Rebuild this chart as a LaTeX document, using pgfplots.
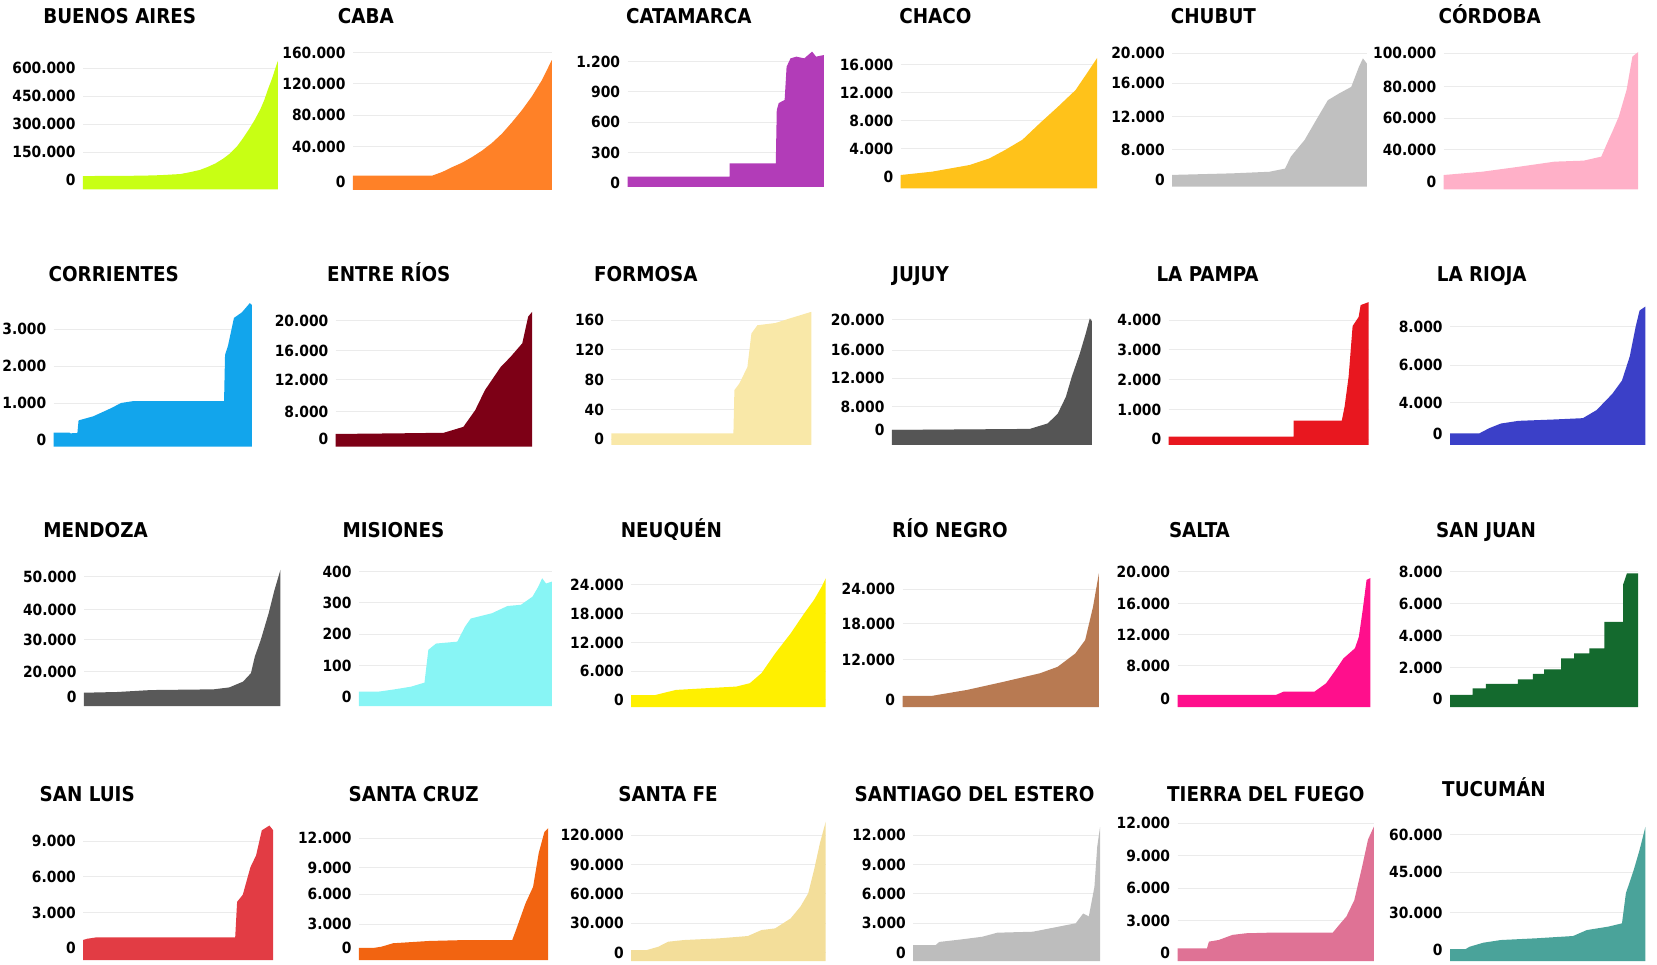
\documentclass[border=0pt]{standalone}
\usepackage{pgfplots}
\pgfplotsset{compat=1.18}
\usepackage{fontspec}
\newfontfamily\cf{DejaVu Sans Condensed}

\definecolor{cBA}{HTML}{C8FF14}
\definecolor{cCABA}{HTML}{FF8127}
\definecolor{cCAT}{HTML}{B23CB8}
\definecolor{cCHA}{HTML}{FFC21A}
\definecolor{cCHU}{HTML}{C0C0C0}
\definecolor{cCOR}{HTML}{FFB0C8}
\definecolor{cCRR}{HTML}{12A5EC}
\definecolor{cER}{HTML}{7D0016}
\definecolor{cFOR}{HTML}{F9E8A8}
\definecolor{cJUJ}{HTML}{555555}
\definecolor{cLP}{HTML}{E8171F}
\definecolor{cLR}{HTML}{3B40C8}
\definecolor{cMEN}{HTML}{595959}
\definecolor{cMIS}{HTML}{88F5F5}
\definecolor{cNEU}{HTML}{FFF000}
\definecolor{cRN}{HTML}{B87A52}
\definecolor{cSAL}{HTML}{FF0F8C}
\definecolor{cSJ}{HTML}{146A2E}
\definecolor{cSL}{HTML}{E23C44}
\definecolor{cSC}{HTML}{F26411}
\definecolor{cSF}{HTML}{F3DE9A}
\definecolor{cSE}{HTML}{BDBDBD}
\definecolor{cTDF}{HTML}{DF7295}
\definecolor{cTUC}{HTML}{4AA39A}

\pgfplotsset{
  pan/.style={
    scale only axis, anchor=south west,
    xmin=0, xmax=100,
    axis lines=left, axis line style={draw=none},
    xtick=\empty, major tick length=0pt,
    scaled y ticks=false,
    ymajorgrids, grid style={line width=0.5pt, color=black!8},
    yticklabel style={font=\cf\bfseries\fontsize{7.7}{8}\selectfont,
      inner sep=0pt, xshift=-3.5pt, anchor=east},
  },
}
\tikzset{ttl/.style={anchor=base west, inner sep=0pt,
  font=\cf\bfseries\fontsize{10.2}{11}\selectfont}}

\begin{document}
\begin{tikzpicture}
\path[use as bounding box] (0,0) rectangle (828.5pt,482pt);

% ---------- row 1 ----------
\begin{axis}[pan, at={(41.45pt,387.35pt)}, width=97.5pt, height=64.8pt,
  ymin=-50000, ymax=646200,
  ytick={0,150000,300000,450000,600000},
  yticklabels={0,150.000,300.000,450.000,600.000}]
\addplot[draw=none, fill=cBA] coordinates {(0,-50000) (0,21000) (30,23000) (40,26000) (50,32000) (55,42000) (60,54000) (64,70000) (68,89000) (72,115000) (75,139000) (79,180000) (82,223000) (85,270000) (88,321000) (91,380000) (93,429000) (95,490000) (97,545000) (99,610000) (100,640000) (100,-50000)};
\end{axis}
\node[ttl] at (21.45pt,470.2pt) {BUENOS AIRES};

\begin{axis}[pan, at={(176.45pt,387pt)}, width=99.45pt, height=69.1pt,
  ymin=-9900, ymax=161200,
  ytick={0,43500,82700,122000,160000},
  yticklabels={0,40.000,80.000,120.000,160.000}]
\addplot[draw=none, fill=cCABA] coordinates {(0,-9900) (0,8000) (40,8000) (45,12500) (50,18500) (55,24000) (60,31000) (65,39000) (70,48500) (75,60000) (80,74000) (85,89000) (90,106000) (95,126000) (100,151000) (100,-9900)};
\end{axis}
\node[ttl] at (168.75pt,470.2pt) {CABA};

\begin{axis}[pan, at={(313.75pt,388.5pt)}, width=98.2pt, height=68.15pt,
  ymin=-42.6, ymax=1309,
  ytick={0,300,600,900,1200},
  yticklabels={0,300,600,900,1.200}]
\addplot[draw=none, fill=cCAT] coordinates {(0,-42.6) (0,60) (52,60) (52,192) (75.5,192) (76,720) (77,790) (80,820) (81,1150) (83,1233) (86,1250) (90,1233) (94,1300) (96,1250) (100,1266) (100,-42.6)};
\end{axis}
\node[ttl] at (312.85pt,470.2pt) {CATAMARCA};

\begin{axis}[pan, at={(450.35pt,387.85pt)}, width=98.2pt, height=65.5pt,
  ymin=-1661, ymax=17100,
  ytick={0,4000,8000,12000,16000},
  yticklabels={0,4.000,8.000,12.000,16.000}]
\addplot[draw=none, fill=cCHA] coordinates {(0,-1661) (0,240) (16,720) (35,1670) (45,2600) (53,3800) (62,5300) (71,7700) (80,10000) (89,12400) (96,15300) (100,17000) (100,-1661)};
\end{axis}
\node[ttl] at (449.45pt,470.2pt) {CHACO};

\begin{axis}[pan, at={(586.05pt,388.65pt)}, width=97.35pt, height=67.2pt,
  ymin=-1058, ymax=20160,
  ytick={0,4740,10000,15300,20000},
  yticklabels={0,8.000,12.000,16.000,20.000}]
\addplot[draw=none, fill=cCHU] coordinates {(0,-1058) (0,800) (31,1050) (50,1300) (58,1800) (61,3700) (68,6300) (75,10000) (80,12600) (86,13700) (92,14700) (96,17900) (98,19200) (100,18400) (100,-1058)};
\end{axis}
\node[ttl] at (585.2pt,470.2pt) {CHUBUT};

\begin{axis}[pan, at={(721.8pt,387.35pt)}, width=97.3pt, height=69.3pt,
  ymin=-5919, ymax=102000,
  ytick={0,24700,49400,74000,100000},
  yticklabels={0,40.000,60.000,80.000,100.000}]
\addplot[draw=none, fill=cCOR] coordinates {(0,-5919) (0,5200) (20,7800) (39,11700) (57,15600) (72,16400) (81,19500) (84,29900) (87,40000) (90,50600) (94,71400) (97,97400) (100,101000) (100,-5919)};
\end{axis}
\node[ttl] at (719.1pt,470.2pt) {CÓRDOBA};

% ---------- row 2 ----------
\begin{axis}[pan, at={(26.8pt,258.65pt)}, width=99.1pt, height=72.2pt,
  ymin=-181, ymax=3722,
  ytick={0,1000,2000,3000},
  yticklabels={0,1.000,2.000,3.000}]
\addplot[draw=none, fill=cCRR] coordinates {(0,-181) (0,200) (8,200) (8.5,180) (12,190) (12.6,530) (20,640) (29,860) (34,1000) (40,1050) (86,1050) (86.5,2300) (88,2550) (91,3300) (95,3450) (99,3700) (100,3650) (100,-181)};
\end{axis}
\node[ttl] at (24.1pt,341.1pt) {CORRIENTES};

\begin{axis}[pan, at={(167.85pt,258.65pt)}, width=98.2pt, height=68pt,
  ymin=-1248, ymax=21700,
  ytick={0,4660,10100,14900,20000},
  yticklabels={0,8.000,12.000,16.000,20.000}]
\addplot[draw=none, fill=cER] coordinates {(0,-1248) (0,900) (30,1000) (55,1100) (65,2100) (71,4900) (76,8300) (84,12200) (89,13900) (95,16200) (98,20700) (100,21500) (100,-1248)};
\end{axis}
\node[ttl] at (163.4pt,341.1pt) {ENTRE RÍOS};

\begin{axis}[pan, at={(305.7pt,259.5pt)}, width=100pt, height=67.15pt,
  ymin=-7.6, ymax=172.5,
  ytick={0,40,80,120,160},
  yticklabels={0,40,80,120,160}]
\addplot[draw=none, fill=cFOR] coordinates {(0,-7.6) (0,8) (61,8) (61.5,66) (64,75) (68,97) (70,142) (73,153) (82,156) (89,162) (100,171) (100,-7.6)};
\end{axis}
\node[ttl] at (296.8pt,341.1pt) {FORMOSA};

\begin{axis}[pan, at={(445.9pt,259.5pt)}, width=100pt, height=63pt,
  ymin=-2727, ymax=20180,
  ytick={0,4240,9400,14500,20000},
  yticklabels={0,8.000,12.000,16.000,20.000}]
\addplot[draw=none, fill=cJUJ] coordinates {(0,-2727) (0,0) (69,200) (78,1200) (83,3000) (87,6000) (90,9700) (94,13900) (97,17600) (99,20300) (100,19800) (100,-2727)};
\end{axis}
\node[ttl] at (445.9pt,341.1pt) {JUJUY};

\begin{axis}[pan, at={(584.3pt,259.5pt)}, width=100pt, height=71.65pt,
  ymin=-191, ymax=4614,
  ytick={0,1000,2000,3000,4000},
  yticklabels={0,1.000,2.000,3.000,4.000}]
\addplot[draw=none, fill=cLP] coordinates {(0,-191) (0,90) (62.5,90) (62.5,630) (86.6,630) (88,1100) (90,2100) (92,3800) (95,4100) (96,4500) (100,4600) (100,-191)};
\end{axis}
\node[ttl] at (578.05pt,341.1pt) {LA PAMPA};

\begin{axis}[pan, at={(725pt,259.5pt)}, width=97.7pt, height=69.65pt,
  ymin=-795, ymax=9561,
  ytick={0,2350,5150,8000},
  yticklabels={0,4.000,6.000,8.000}]
\addplot[draw=none, fill=cLR] coordinates {(0,-795) (0,70) (15,70) (20,450) (26,800) (35,1000) (53,1100) (68,1200) (75,1800) (83,3000) (88,4000) (92,5800) (95,8000) (97,9200) (100,9500) (100,-795)};
\end{axis}
\node[ttl] at (718.2pt,341.1pt) {LA RIOJA};

% ---------- row 3 ----------
\begin{axis}[pan, at={(41.95pt,129pt)}, width=98.25pt, height=68.5pt,
  ymin=-3607, ymax=53200,
  ytick={0,10600,23800,36200,50000},
  yticklabels={0,20.000,30.000,40.000,50.000}]
\addplot[draw=none, fill=cMEN] coordinates {(0,-3607) (0,1900) (17,2200) (34,3000) (66,3300) (74,4100) (81,6500) (85,10000) (87,16900) (90,23800) (94,34800) (97,44500) (100,52800) (100,-3607)};
\end{axis}
\node[ttl] at (21.45pt,213.2pt) {MENDOZA};

\begin{axis}[pan, at={(179.45pt,129pt)}, width=96.45pt, height=67.65pt,
  ymin=-29.8, ymax=403,
  ytick={0,100,200,300,400},
  yticklabels={0,100,200,300,400}]
\addplot[draw=none, fill=cMIS] coordinates {(0,-29.8) (0,16) (10,16) (18,23) (27,32) (34,45) (36,150) (40,170) (51,176) (55,224) (58,250) (69,267) (77,290) (84,294) (90,320) (93,352) (95,379) (97,362) (100,368) (100,-29.8)};
\end{axis}
\node[ttl] at (171.05pt,213.2pt) {MISIONES};

\begin{axis}[pan, at={(315.55pt,128.5pt)}, width=97.3pt, height=64.85pt,
  ymin=-1461, ymax=25600,
  ytick={0,6000,12000,18000,24000},
  yticklabels={0,6.000,12.000,18.000,24.000}]
\addplot[draw=none, fill=cNEU] coordinates {(0,-1461) (0,1000) (12,1000) (23,2100) (36,2400) (54,2800) (61,3500) (67,5600) (74,9700) (82,13900) (89,18100) (94,20900) (98,23700) (100,25400) (100,-1461)};
\end{axis}
\node[ttl] at (310.2pt,213.2pt) {NEUQUÉN};

\begin{axis}[pan, at={(451.25pt,128.5pt)}, width=98.2pt, height=67.35pt,
  ymin=-1518, ymax=27700,
  ytick={0,8700,16600,24000},
  yticklabels={0,12.000,18.000,24.000}]
\addplot[draw=none, fill=cRN] coordinates {(0,-1518) (0,900) (15,900) (33,2200) (52,4000) (70,5800) (79,7200) (88,10100) (93,13000) (97,20200) (100,27500) (100,-1518)};
\end{axis}
\node[ttl] at (445.9pt,213.2pt) {RÍO NEGRO};

\begin{axis}[pan, at={(588.75pt,128.5pt)}, width=96.45pt, height=68.15pt,
  ymin=-1207, ymax=20150,
  ytick={0,5270,10100,15000,20000},
  yticklabels={0,8.000,12.000,16.000,20.000}]
\addplot[draw=none, fill=cSAL] coordinates {(0,-1207) (0,680) (51,680) (55,1200) (71,1200) (77,2500) (82,4600) (86,6400) (92,8000) (94,9800) (96,14000) (98,18700) (100,19000) (100,-1207)};
\end{axis}
\node[ttl] at (584.3pt,213.2pt) {SALTA};

\begin{axis}[pan, at={(725pt,128.5pt)}, width=94.1pt, height=68.15pt,
  ymin=-483, ymax=8063,
  ytick={0,2000,4000,6000,8000},
  yticklabels={0,2.000,4.000,6.000,8.000}]
\addplot[draw=none, fill=cSJ] coordinates {(0,-483) (0,270) (12,270) (12,690) (19,690) (19,960) (36,960) (36,1250) (44,1250) (44,1590) (50,1590) (50,1880) (59,1880) (59,2570) (66,2570) (66,2880) (74,2880) (74,3200) (82,3200) (82,4860) (92,4860) (92,7200) (94,7900) (100,7900) (100,-483)};
\end{axis}
\node[ttl] at (717.85pt,213.2pt) {SAN JUAN};

% ---------- row 4 ----------
\begin{axis}[pan, at={(41.6pt,2pt)}, width=95pt, height=68pt,
  ymin=-981, ymax=10430,
  ytick={0,3000,6000,9000},
  yticklabels={0,3.000,6.000,9.000}]
\addplot[draw=none, fill=cSL] coordinates {(0,-981) (0,700) (2,800) (7,920) (80,920) (81,3900) (84,4500) (88,6800) (91,7800) (94,9900) (98,10300) (100,9900) (100,-981)};
\end{axis}
\node[ttl] at (19.65pt,81.1pt) {SAN LUIS};

\begin{axis}[pan, at={(179.45pt,2pt)}, width=94.65pt, height=66.35pt,
  ymin=-1276, ymax=13200,
  ytick={0,2650,5900,8800,12000},
  yticklabels={0,3.000,6.000,9.000,12.000}]
\addplot[draw=none, fill=cSC] coordinates {(0,-1276) (0,50) (8,50) (12,180) (18,550) (37,800) (56,900) (81,900) (83,2000) (88,4900) (92,6700) (95,10400) (98,12700) (100,13100) (100,-1276)};
\end{axis}
\node[ttl] at (174.1pt,81.1pt) {SANTA CRUZ};

\begin{axis}[pan, at={(315.55pt,1.5pt)}, width=97.3pt, height=70.15pt,
  ymin=-8462, ymax=134600,
  ytick={0,30000,60000,90000,120000},
  yticklabels={0,30.000,60.000,90.000,120.000}]
\addplot[draw=none, fill=cSF] coordinates {(0,-8462) (0,2700) (8,2700) (14,6100) (19,11200) (27,12900) (45,14600) (60,17000) (67,23100) (74,24800) (82,35000) (87,47000) (91,60500) (94,84300) (97,111500) (100,133600) (100,-8462)};
\end{axis}
\node[ttl] at (308.95pt,81.1pt) {SANTA FE};

\begin{axis}[pan, at={(456.6pt,1.5pt)}, width=93.4pt, height=67.65pt,
  ymin=-846, ymax=12950,
  ytick={0,3000,6000,9000,12000},
  yticklabels={0,3.000,6.000,9.000,12.000}]
\addplot[draw=none, fill=cSE] coordinates {(0,-846) (0,780) (12,780) (14,1100) (26,1360) (37,1630) (45,2040) (64,2140) (87,3000) (91,4000) (94,3700) (97,6700) (98.5,10800) (100,12800) (100,-846)};
\end{axis}
\node[ttl] at (427.15pt,81.1pt) {SANTIAGO DEL ESTERO};

\begin{axis}[pan, at={(588.75pt,1.5pt)}, width=98.2pt, height=69.35pt,
  ymin=-711, ymax=12090,
  ytick={0,3000,6000,9000,12000},
  yticklabels={0,3.000,6.000,9.000,12.000}]
\addplot[draw=none, fill=cTDF] coordinates {(0,-711) (0,460) (15,460) (16,1080) (21,1230) (28,1700) (35,1850) (46,1900) (79,1900) (83,2770) (86,3400) (90,4900) (94,8000) (97,10500) (100,11700) (100,-711)};
\end{axis}
\node[ttl] at (583.4pt,81.1pt) {TIERRA DEL FUEGO};

\begin{axis}[pan, at={(725pt,1.5pt)}, width=97.7pt, height=67.65pt,
  ymin=-5739, ymax=64850,
  ytick={0,19500,40500,60000},
  yticklabels={0,30.000,45.000,60.000}]
\addplot[draw=none, fill=cTUC] coordinates {(0,-5739) (0,500) (8,500) (10,1700) (17,3800) (26,5200) (44,6100) (63,7300) (70,10400) (81,12200) (88,13900) (90,29600) (94,41700) (97,52200) (100,64300) (100,-5739)};
\end{axis}
\node[ttl] at (720.9pt,83.9pt) {TUCUMÁN};

\end{tikzpicture}
\end{document}
